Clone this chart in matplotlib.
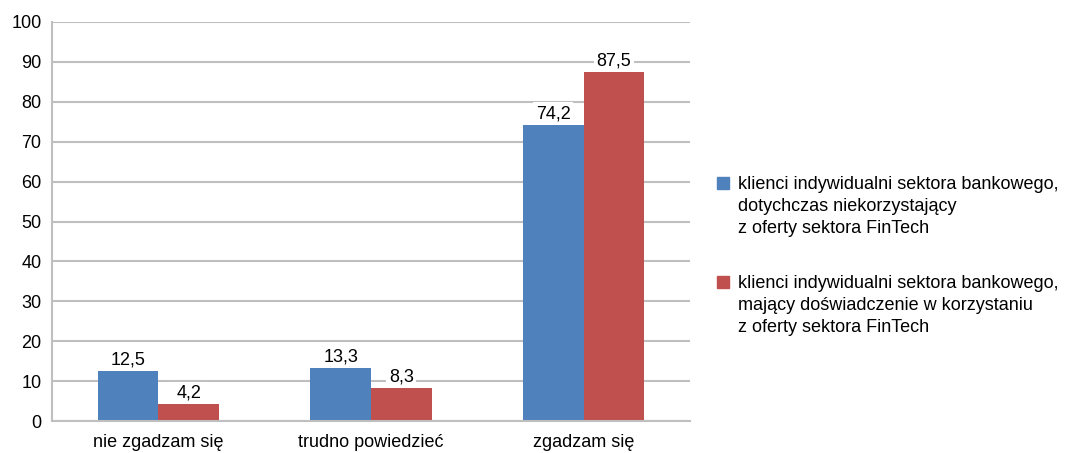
import numpy as np
import matplotlib.pyplot as plt
from matplotlib.patches import Rectangle

plt.rcParams['font.family'] = ['Liberation Sans', 'DejaVu Sans']

categories = ['nie zgadzam się', 'trudno powiedzieć', 'zgadzam się']
non_users = [12.5, 13.3, 74.2]
fintech_users = [4.2, 8.3, 87.5]
series_names = [
    'klienci indywidualni sektora bankowego,\ndotychczas niekorzystający\nz oferty sektora FinTech',
    'klienci indywidualni sektora bankowego,\nmający doświadczenie w korzystaniu\nz oferty sektora FinTech',
]
colors = ['#4F81BD', '#C0504D']
grid_color = '#BFBFBF'

W, H = 1069, 453
fig = plt.figure(figsize=(W / 100, H / 100), dpi=100)
ax = fig.add_axes([52 / W, 1 - 421 / H, 638 / W, 399 / H])

x = np.arange(len(categories))
w = 0.285
bars1 = ax.bar(x - w / 2, non_users, w, color=colors[0], zorder=2)
bars2 = ax.bar(x + w / 2, fintech_users, w, color=colors[1], zorder=2)

def fmt(v):
    return f'{v:.1f}'.replace('.', ',')

for bars in (bars1, bars2):
    for b in bars:
        h = b.get_height()
        ax.annotate(fmt(h), (b.get_x() + b.get_width() / 2, h),
                    xytext=(0, 2), textcoords='offset points',
                    ha='center', va='bottom', fontsize=13, zorder=3,
                    bbox=dict(boxstyle='square,pad=0.15', fc='white', ec='none'))

ax.set_xlim(-0.5, 2.5)
ax.set_ylim(0, 100)
ax.set_yticks(range(0, 101, 10))
ax.set_xticks(x)
ax.set_xticklabels(categories)
ax.tick_params(axis='both', length=0, labelsize=13, colors='black')
ax.tick_params(axis='y', pad=7.5)
ax.tick_params(axis='x', pad=9.5)
ax.yaxis.grid(True, color=grid_color, linewidth=1.5, zorder=0)
ax.set_axisbelow(True)
for s in ('top', 'right'):
    ax.spines[s].set_visible(False)
for s in ('left', 'bottom'):
    ax.spines[s].set_color(grid_color)
    ax.spines[s].set_linewidth(1.5)

# legend drawn by hand so the swatch sits beside the first text line
for i, (name, c) in enumerate(zip(series_names, colors)):
    y_mid = 183 + i * 99
    fig.patches.append(Rectangle((717 / W, 1 - (y_mid + 6) / H), 12 / W, 12 / H,
                                 transform=fig.transFigure, color=c))
    fig.text(738 / W, 1 - (y_mid - 7) / H, name, fontsize=13,
             va='top', ha='left', linespacing=1.38)

fig.savefig('out.png', dpi=100)
